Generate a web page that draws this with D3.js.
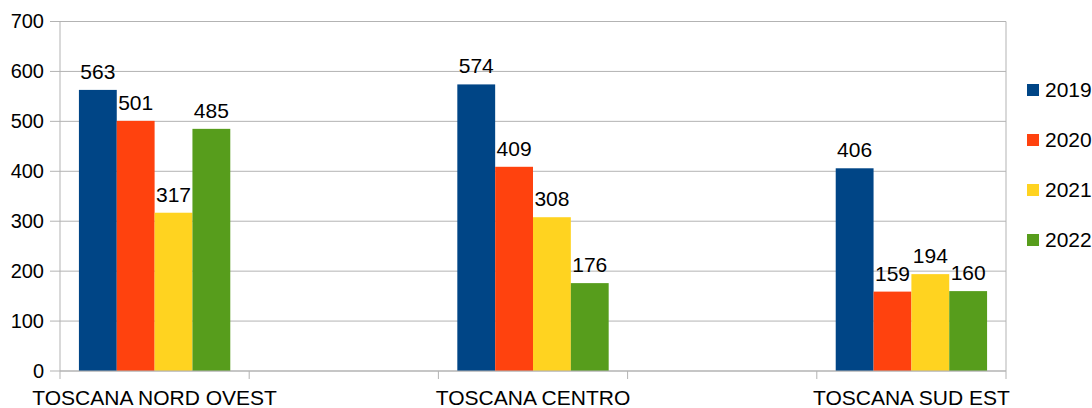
<!DOCTYPE html>
<html>
<head>
<meta charset="utf-8">
<script src="https://cdn.jsdelivr.net/npm/d3@7"></script>
<style>
  body { margin: 0; background: #fff; }
  svg text { font-family: "Liberation Sans", Arial, sans-serif; fill: #000; }
</style>
</head>
<body>
<svg width="1092" height="408"></svg>
<script>
// categories (the empty ones are blank slots between the regions)
var categories = ["TOSCANA NORD OVEST", "", "TOSCANA CENTRO", "", "TOSCANA SUD EST"];
var years = ["2019", "2020", "2021", "2022"];
var values2019 = [563, null, 574, null, 406];
var values2020 = [501, null, 409, null, 159];
var values2021 = [317, null, 308, null, 194];
var values2022 = [485, null, 176, null, 160];
var yTicks = [0, 100, 200, 300, 400, 500, 600, 700];

var series = [values2019, values2020, values2021, values2022];
var colors = ["#004586", "#ff420e", "#ffd320", "#579d1c"];

var svg = d3.select("svg");
var plot = { l: 60, r: 1006, t: 21.5, b: 371 };

var xScale = d3.scaleBand().domain(d3.range(categories.length))
    .range([plot.l, plot.r]).paddingInner(0.2).paddingOuter(0.1);
var xSub = d3.scaleBand().domain(d3.range(years.length)).range([0, xScale.bandwidth()]);
var yScale = d3.scaleLinear().domain([0, 700]).range([plot.b, plot.t]);

// grid lines
svg.append("g")
    .selectAll("line")
    .data(yTicks)
    .enter()
    .append("line")
    .attr("x1", plot.l - 10)
    .attr("x2", plot.r)
    .attr("y1", d => yScale(d))
    .attr("y2", d => yScale(d))
    .attr("stroke", "#b3b3b3")
    .attr("stroke-width", 1);

// y axis labels
var yAxis = d3.axisLeft(yScale).tickValues(yTicks).tickSize(0).tickPadding(16);
svg.append("g")
    .attr("transform", "translate(" + plot.l + ",0)")
    .call(yAxis)
    .call(g => g.select(".domain").remove())
    .selectAll("text")
    .style("font-size", "20px");

// vertical axis lines and category ticks
var step = xScale.step();
svg.append("g")
    .selectAll("line")
    .data(d3.range(categories.length + 1))
    .enter()
    .append("line")
    .attr("x1", d => plot.l + d * step)
    .attr("x2", d => plot.l + d * step)
    .attr("y1", d => (d === 0 || d === categories.length) ? plot.t : plot.b)
    .attr("y2", plot.b + 8)
    .attr("stroke", "#b3b3b3")
    .attr("stroke-width", 1);

// bars
series.forEach(function (vals, i) {
    var g = svg.append("g");
    var rows = vals.map((v, j) => ({ v: v, j: j })).filter(d => d.v !== null);
    g.selectAll("rect")
        .data(rows)
        .enter()
        .append("rect")
        .attr("x", d => xScale(d.j) + xSub(i))
        .attr("y", d => yScale(d.v))
        .attr("width", xSub.bandwidth())
        .attr("height", d => yScale(0) - yScale(d.v))
        .attr("fill", colors[i]);

    g.selectAll("text")
        .data(rows)
        .enter()
        .append("text")
        .attr("x", d => xScale(d.j) + xSub(i) + xSub.bandwidth() / 2)
        .attr("y", d => yScale(d.v) - 11)
        .attr("text-anchor", "middle")
        .style("font-size", "21px")
        .text(d => d.v);
});

// x axis line drawn on top of bars
svg.append("line")
    .attr("x1", plot.l)
    .attr("x2", plot.r)
    .attr("y1", plot.b)
    .attr("y2", plot.b)
    .attr("stroke", "#b3b3b3");

// category labels
svg.append("g")
    .selectAll("text")
    .data(categories)
    .enter()
    .append("text")
    .attr("x", (d, i) => xScale(i) + xScale.bandwidth() / 2)
    .attr("y", 405)
    .attr("text-anchor", "middle")
    .style("font-size", "21px")
    .text(d => d);

// legend
var legend = svg.append("g");
years.forEach(function (y, i) {
    legend.append("rect")
        .attr("x", 1027)
        .attr("y", 84 + i * 50)
        .attr("width", 12)
        .attr("height", 12)
        .attr("fill", colors[i]);
    legend.append("text")
        .attr("x", 1045)
        .attr("y", 90 + i * 50)
        .attr("dy", "0.35em")
        .style("font-size", "21px")
        .text(y);
});
</script>
</body>
</html>
